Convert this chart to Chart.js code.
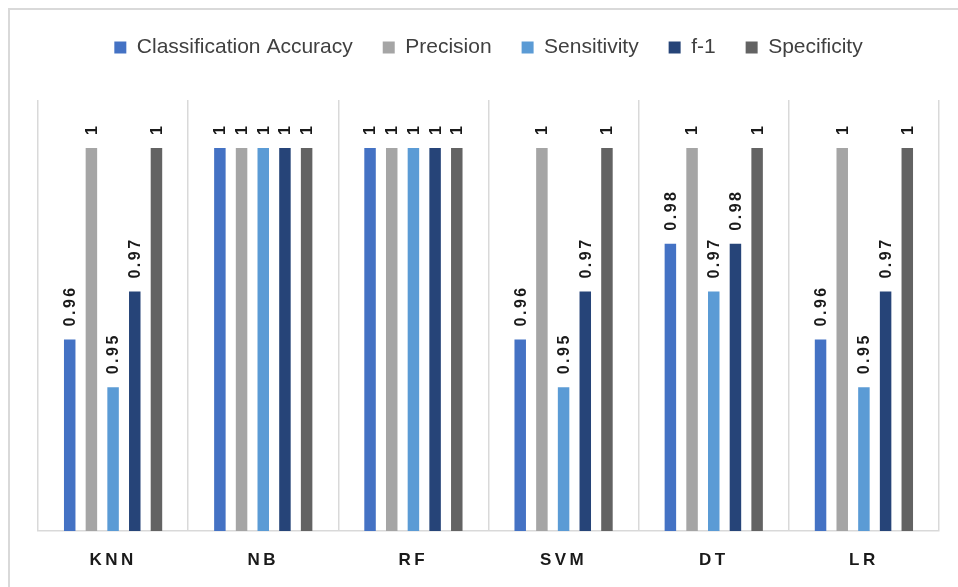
<!DOCTYPE html>
<html>
<head>
<meta charset="utf-8">
<script src="https://cdn.jsdelivr.net/npm/chart.js@4.4.1/dist/chart.umd.min.js"></script>
<style>
  html, body { margin: 0; padding: 0; background: #ffffff; }
  body { width: 958px; height: 587px; position: relative; overflow: hidden; }
  #frame {
    position: absolute; left: 8px; top: 8px; width: 1200px; height: 1200px;
    border-top: 2px solid #d9d9d9; border-left: 2px solid #d9d9d9;
  }
  #chart { position: absolute; left: 0; top: 0; }
</style>
</head>
<body>
<div id="frame"></div>
<canvas id="chart" width="958" height="587"></canvas>
<script>
// Data
const models = ["KNN", "NB", "RF", "SVM", "DT", "LR"];
const accuracy = [0.96, 1, 1, 0.96, 0.98, 0.96];
const precision = [1, 1, 1, 1, 1, 1];
const sensitivity = [0.95, 1, 1, 0.95, 0.97, 0.95];
const f1 = [0.97, 1, 1, 0.97, 0.98, 0.97];
const specificity = [1, 1, 1, 1, 1, 1];

const FONT = '"Liberation Sans", Arial, sans-serif';

// value labels, rotated, above each bar
const barLabels = {
  id: "barLabels",
  afterDatasetsDraw(chart) {
    const ctx = chart.ctx;
    ctx.save();
    ctx.font = "bold 16px " + FONT;
    ctx.fillStyle = "#1a1a1a";
    ctx.letterSpacing = "2.5px";
    ctx.textAlign = "left";
    ctx.textBaseline = "middle";
    chart.data.datasets.forEach((ds, i) => {
      chart.getDatasetMeta(i).data.forEach((bar, j) => {
        ctx.save();
        ctx.translate(bar.x, bar.y - 13);
        ctx.rotate(-Math.PI / 2);
        ctx.fillText(String(ds.data[j]), 0, 1);
        ctx.restore();
      });
    });
    ctx.restore();
  }
};

// spaced-out category labels + taller legend block
const layoutTweaks = {
  id: "layoutTweaks",
  beforeInit(chart) {
    const fit = chart.legend.fit;
    chart.legend.fit = function () {
      fit.call(this);
      this.height = 93;
    };
  },
  beforeDraw(chart) {
    const xs = chart.scales.x;
    if (!xs._spaced) {
      const orig = xs.drawLabels;
      xs.drawLabels = function (area) {
        this.ctx.save();
        this.ctx.letterSpacing = "3.5px";
        orig.call(this, area);
        this.ctx.restore();
      };
      xs._spaced = true;
    }
  }
};

const chart = new Chart(document.getElementById("chart"), {
  type: "bar",
  data: {
    labels: models,
    datasets: [
      { label: "Classification Accuracy", data: accuracy, backgroundColor: "#4472C4" },
      { label: "Precision", data: precision, backgroundColor: "#A5A5A5" },
      { label: "Sensitivity", data: sensitivity, backgroundColor: "#5B9BD5" },
      { label: "f-1", data: f1, backgroundColor: "#264478" },
      { label: "Specificity", data: specificity, backgroundColor: "#636363" }
    ]
  },
  options: {
    responsive: false,
    animation: false,
    datasets: {
      bar: { categoryPercentage: 0.722, barPercentage: 0.53, borderWidth: 0 }
    },
    layout: { padding: { left: 38, right: 19, top: 7, bottom: 0 } },
    plugins: {
      tooltip: { enabled: false },
      legend: {
        position: "top",
        labels: {
          boxWidth: 12,
          boxHeight: 12,
          padding: 30,
          color: "#404040",
          font: { family: FONT, size: 21 }
        }
      }
    },
    scales: {
      x: {
        offset: true,
        grid: { offset: true, color: "#d9d9d9", lineWidth: 1.5, drawTicks: false },
        border: { color: "#d9d9d9", width: 1.5 },
        ticks: {
          padding: 19,
          color: "#1a1a1a",
          font: { family: FONT, size: 17, weight: "bold" }
        },
        afterFit(scale) {
          scale.height = 56;
        }
      },
      y: {
        display: false,
        min: 0.92,
        max: 1.01
      }
    }
  },
  plugins: [barLabels, layoutTweaks]
});
chart.draw();
</script>
</body>
</html>
